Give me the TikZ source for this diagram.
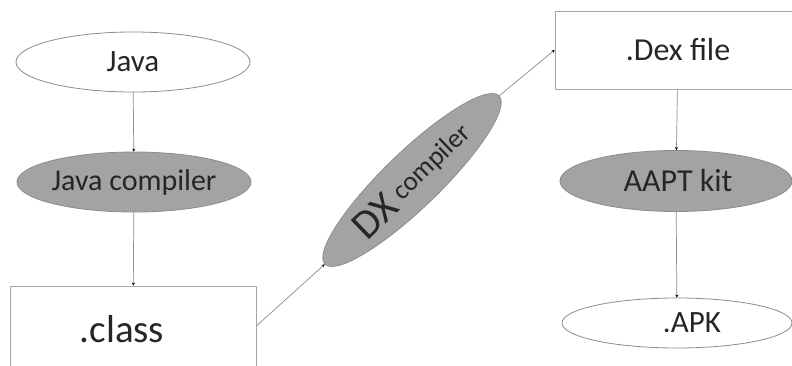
\documentclass[tikz,border=0pt]{standalone}
\usepackage{fontspec}
\setmainfont{Carlito}
\usetikzlibrary{shapes.geometric,arrows.meta}
\begin{document}
\begin{tikzpicture}[x=1pt,y=1pt,
  oval/.style={ellipse,draw=black!45,line width=0.8pt,inner sep=0pt,text=black!85,font=\fontsize{31}{33}\selectfont},
  ovalfill/.style={oval,fill=black!36},
  boxnode/.style={rectangle,draw=black!35,line width=0.8pt,inner sep=0pt,text=black!85},
  link/.style={draw=black!45,line width=0.7pt,-{Stealth[length=3pt,width=3pt,black]}}]
\useasboundingbox (0,0) rectangle (792,365);
\clip (0,0) rectangle (792,365);
\fill[white] (0,0) rectangle (792,365);
\node[oval,minimum width=234,minimum height=60] (java) at (133,303) {Java};
\node[ovalfill,minimum width=234,minimum height=60,font=\fontsize{30}{32}\selectfont] (jc) at (134,183) {Java compiler};
\node[boxnode,minimum width=246,minimum height=92,font=\fontsize{39}{42}\selectfont] (class) at (133,33) {\raisebox{6pt}{\hspace*{-22pt}.class}};
\node[ovalfill,rotate=44,minimum width=242,minimum height=56] (dx) at (412,185) {\fontsize{41}{43}\selectfont DX\,\raisebox{4pt}{\fontsize{27}{29}\selectfont compiler}};
\node[boxnode,minimum width=246,minimum height=78,font=\fontsize{32}{34}\selectfont] (dex) at (678,315) {.Dex file};
\node[ovalfill,minimum width=232,minimum height=61,font=\fontsize{32}{34}\selectfont] (aapt) at (676,184) {\hspace*{4pt}AAPT kit};
\node[oval,minimum width=230,minimum height=50] (apk) at (677,42) {\hspace*{30pt}.APK};
\draw[link] (java) -- (jc);
\draw[link] (jc) -- (class);
\draw[link] ([yshift=6pt]class.east) -- (dx.west);
\draw[link] (dx.east) -- (dex.west);
\draw[link] (dex) -- (aapt);
\draw[link] (aapt) -- (apk);
\end{tikzpicture}
\end{document}
